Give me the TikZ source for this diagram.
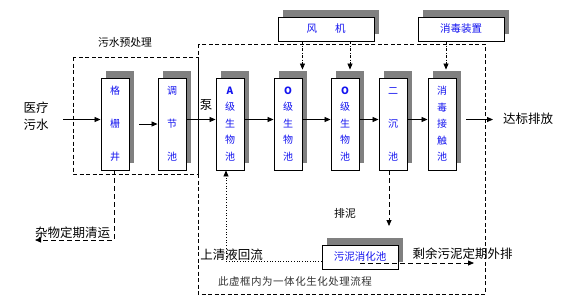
\documentclass[tikz,border=0pt]{standalone}
\usepackage{fontspec}
\setmainfont{Noto Sans CJK SC}
\usetikzlibrary{shadows,arrows.meta}
\definecolor{shadowgray}{RGB}{128,128,128}
\definecolor{boxblue}{RGB}{20,20,240}
\tikzset{
  x=1pt, y=-1pt,
  unit/.style={draw=black, line width=0.9pt, fill=white, text=boxblue,
    general shadow={fill=shadowgray, shadow xshift=5pt, shadow yshift=7pt},
    inner sep=0pt, align=center},
  tall3/.style={unit, minimum width=28pt, minimum height=92pt, font=\fontsize{10}{33}\selectfont},
  tall5/.style={unit, minimum width=28pt, minimum height=92pt, font=\fontsize{10}{16.5}\selectfont},
  wide/.style={unit, minimum height=24pt, font=\fontsize{10.5}{12}\selectfont},
  tip/.style={-{Triangle[length=6pt,width=5pt]}},
  flow/.style={tip, line width=0.8pt},
  frame/.style={line width=0.8pt, dash pattern=on 4pt off 2.5pt},
  dashflow/.style={tip, line width=0.8pt, dash pattern=on 5pt off 3pt},
  fan/.style={tip, line width=0.7pt, dash pattern=on 3pt off 1.5pt on 0.8pt off 1.5pt},
  ret/.style={tip, line width=0.7pt, dotted},
  lbl/.style={font=\fontsize{12.5}{17}\selectfont, inner sep=0pt, align=center},
  slbl/.style={font=\fontsize{10.8}{12}\selectfont, inner sep=0pt},
}
\begin{document}
\begin{tikzpicture}
\useasboundingbox (0,0) rectangle (567,301);
% frames
\draw[frame] (73,57) rectangle (198,174);
\draw[frame] (198,44) rectangle (485,294);
% boxes
\node[tall3] (ggj) at (115,124) {格\\栅\\井};
\node[tall3] (tjc) at (172,124) {调\\节\\池};
\node[tall5] (A) at (230,124) {\textbf{A}\\级\\生\\物\\池};
\node[tall5] (O1) at (288,124) {\textbf{O}\\级\\生\\物\\池};
\node[tall5] (O2) at (345,124) {\textbf{O}\\级\\生\\物\\池};
\node[tall3] (ec) at (393,124) {二\\沉\\池};
\node[tall5] (xd) at (442,124) {消\\毒\\接\\触\\池};
\node[wide, minimum width=96pt] (fj) at (326,29) {风\hspace{18pt}机};
\node[wide, minimum width=86pt] (zz) at (461,29) {消毒装置};
\node[wide, minimum width=76pt] (wn) at (360,257) {污泥消化池};
% labels
\node[lbl] (src) at (36,116) {医疗\\污水};
\node[slbl] (pre) at (125,42) {污水预处理};
\node[lbl] (pump) at (206,105) {泵};
\node[lbl] (dst) at (528,119) {达标排放};
\node[lbl] (debris) at (72.5,233) {杂物定期清运};
\node[slbl] (pn) at (345,213) {排泥};
\node[lbl] (back) at (231.5,255) {上清液回流};
\node[lbl] (excess) at (462.5,254) {剩余污泥定期外排};
\node[font=\fontsize{10.5}{12}\selectfont\addfontfeatures{LetterSpace=5}, text=black!80, inner sep=0pt] (note) at (295,282) {此虚框内为一体化生化处理流程};
% main flow
\coordinate (in) at (63,119.5);
\coordinate (out) at (493,119.5);
\draw[flow] (in) -- (in -| ggj.west);
\draw[flow] ([xshift=10pt]ggj.east) -- (tjc.west);
\draw[flow] ([yshift=4.5pt]tjc.east) -- ([yshift=4.5pt]A.west);
\draw[flow] ([yshift=4.5pt]A.east) -- ([yshift=4.5pt]O1.west);
\draw[flow] ([yshift=4.5pt]O1.east) -- ([yshift=4.5pt]O2.west);
\draw[flow] ([yshift=4.5pt]O2.east) -- ([yshift=4.5pt]ec.west);
\draw[flow] ([yshift=4.5pt]ec.east) -- ([yshift=4.5pt]xd.west);
\draw[flow] ([xshift=10pt,yshift=4.5pt]xd.east) -- (out);
% air and disinfectant
\coordinate (f1) at ([yshift=8pt]O1.north east);
\coordinate (f2) at ([xshift=5pt,yshift=8pt]O2.north);
\coordinate (f3) at ([xshift=4pt,yshift=8pt]xd.north);
\draw[fan] (fj.south -| f1) -- (f1);
\draw[fan] (fj.south -| f2) -- (f2);
\draw[fan] (zz.south -| f3) -- (f3);
% debris
\coordinate (d1) at (114,240);
\coordinate (d2) at (35,240);
\draw[dashflow] (ggj.south -| d1) -- (d1) -- (d2);
% sludge
\coordinate (s1) at ([xshift=-4pt]ec.south);
\coordinate (s2) at (389,226);
\draw[dashflow] (s1) -- (s2);
% return
\coordinate (r1) at (226,261);
\draw[ret] ([yshift=-4pt]wn.west) -- (r1) -- (r1 |- A.south);
% excess sludge
\coordinate (e1) at (474,263);
\draw[dashflow] ([yshift=-6pt]wn.center) -- (e1);
\end{tikzpicture}
\end{document}
